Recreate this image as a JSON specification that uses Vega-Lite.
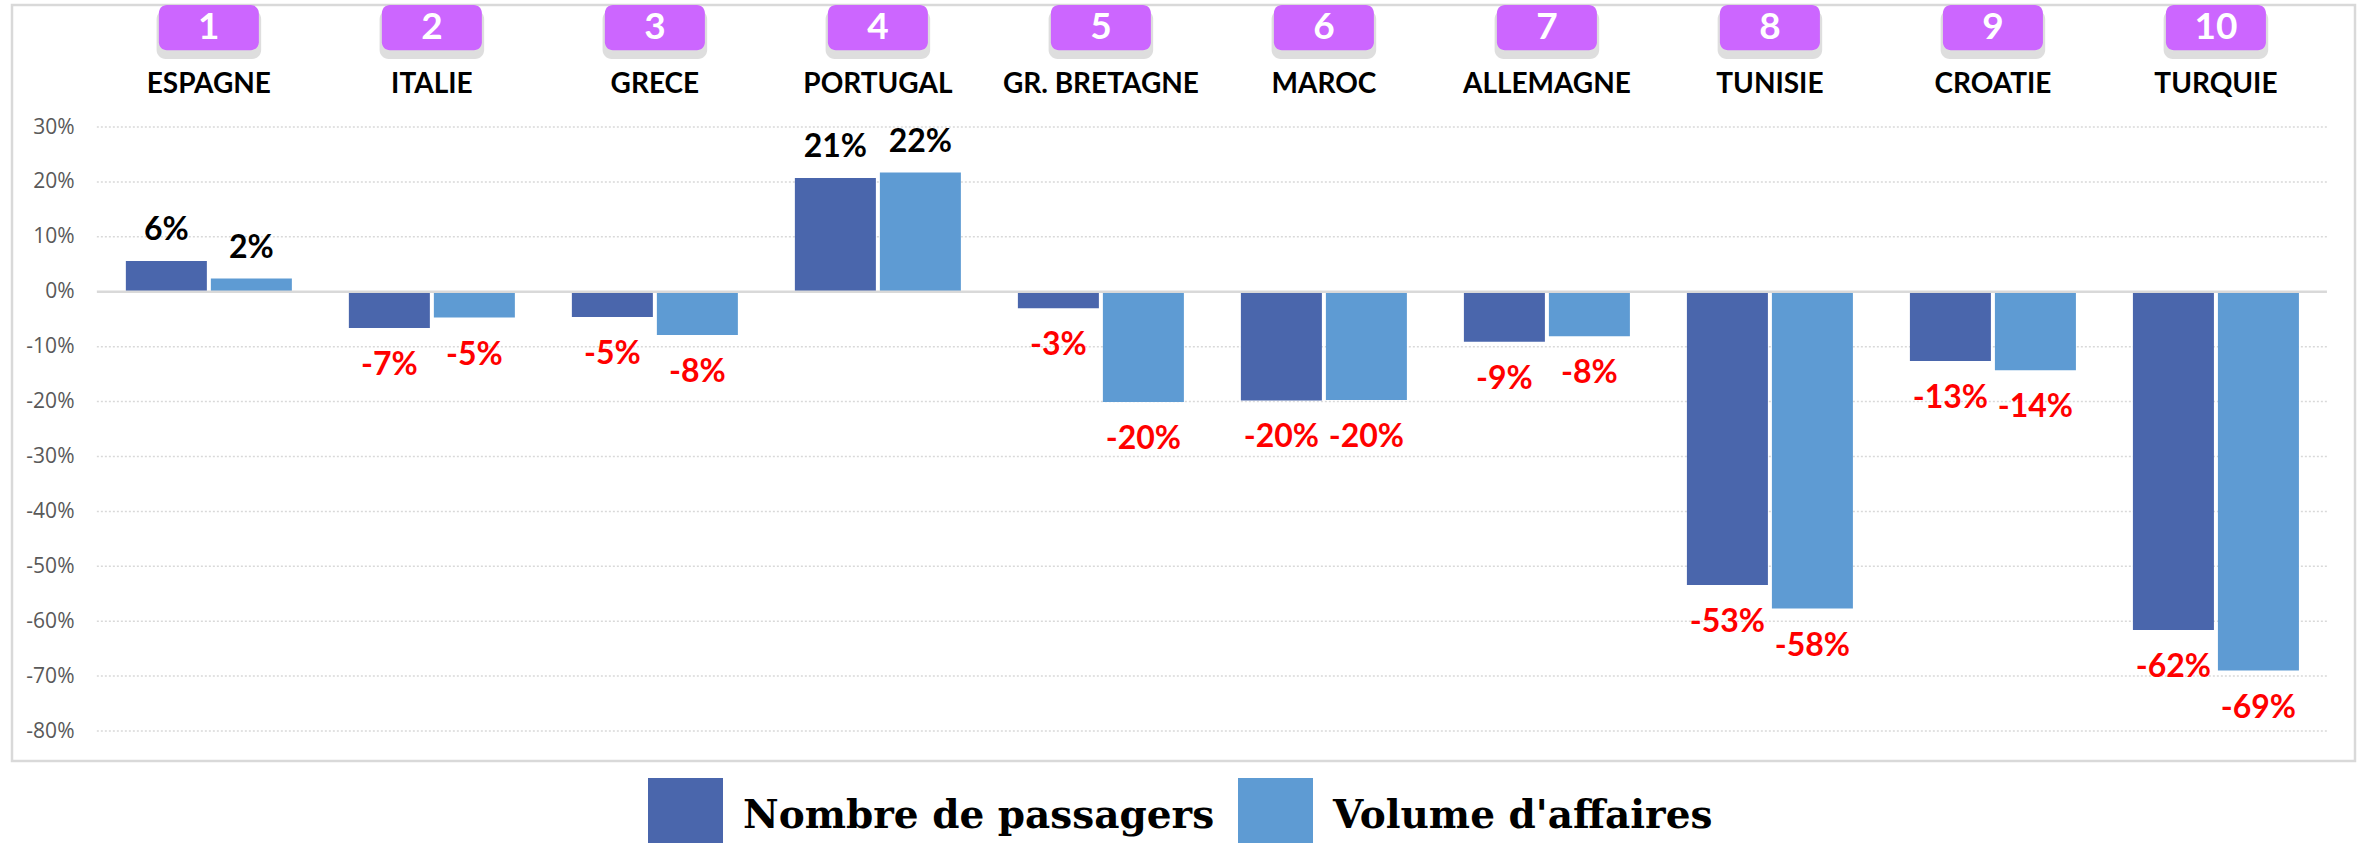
{
  "$schema": "https://vega.github.io/schema/vega-lite/v6.json",
  "width": 2343,
  "height": 756,
  "autosize": "none",
  "padding": {"left": 12, "top": 5, "right": 8, "bottom": 82},
  "background": "white",
  "config": {
    "view": {"stroke": "#D9D9D9", "strokeWidth": 2.5},
    "font": "Lato",
    "locale": {"number": {"decimal": ".", "thousands": ",", "grouping": [3], "currency": ["", ""], "minus": "-"}}
  },
  "datasets": {
    "bars": [
      {"country": "ESPAGNE", "serie": "Nombre de passagers", "value": 0.056},
      {"country": "ESPAGNE", "serie": "Volume d'affaires", "value": 0.024},
      {"country": "ITALIE", "serie": "Nombre de passagers", "value": -0.066},
      {"country": "ITALIE", "serie": "Volume d'affaires", "value": -0.047},
      {"country": "GRECE", "serie": "Nombre de passagers", "value": -0.046},
      {"country": "GRECE", "serie": "Volume d'affaires", "value": -0.079},
      {"country": "PORTUGAL", "serie": "Nombre de passagers", "value": 0.207},
      {"country": "PORTUGAL", "serie": "Volume d'affaires", "value": 0.217},
      {"country": "GR. BRETAGNE", "serie": "Nombre de passagers", "value": -0.030},
      {"country": "GR. BRETAGNE", "serie": "Volume d'affaires", "value": -0.201},
      {"country": "MAROC", "serie": "Nombre de passagers", "value": -0.198},
      {"country": "MAROC", "serie": "Volume d'affaires", "value": -0.197},
      {"country": "ALLEMAGNE", "serie": "Nombre de passagers", "value": -0.091},
      {"country": "ALLEMAGNE", "serie": "Volume d'affaires", "value": -0.081},
      {"country": "TUNISIE", "serie": "Nombre de passagers", "value": -0.534},
      {"country": "TUNISIE", "serie": "Volume d'affaires", "value": -0.577},
      {"country": "CROATIE", "serie": "Nombre de passagers", "value": -0.126},
      {"country": "CROATIE", "serie": "Volume d'affaires", "value": -0.143},
      {"country": "TURQUIE", "serie": "Nombre de passagers", "value": -0.616},
      {"country": "TURQUIE", "serie": "Volume d'affaires", "value": -0.690}
    ],
    "countries": [
      {"country": "ESPAGNE", "rank": "1"},
      {"country": "ITALIE", "rank": "2"},
      {"country": "GRECE", "rank": "3"},
      {"country": "PORTUGAL", "rank": "4"},
      {"country": "GR. BRETAGNE", "rank": "5"},
      {"country": "MAROC", "rank": "6"},
      {"country": "ALLEMAGNE", "rank": "7"},
      {"country": "TUNISIE", "rank": "8"},
      {"country": "CROATIE", "rank": "9"},
      {"country": "TURQUIE", "rank": "10"}
    ],
    "grid": [
      {"v": -0.8}, {"v": -0.7}, {"v": -0.6}, {"v": -0.5}, {"v": -0.4}, {"v": -0.3},
      {"v": -0.2}, {"v": -0.1}, {"v": 0.1}, {"v": 0.2}, {"v": 0.3}
    ]
  },
  "layer": [
    {
      "data": {"name": "bars"},
      "mark": {"type": "bar", "opacity": 0},
      "encoding": {
        "x": {
          "field": "country", "type": "nominal",
          "sort": ["ESPAGNE", "ITALIE", "GRECE", "PORTUGAL", "GR. BRETAGNE", "MAROC", "ALLEMAGNE", "TUNISIE", "CROATIE", "TURQUIE"],
          "scale": {"paddingInner": 0.2556, "paddingOuter": 0.381, "align": 0.67},
          "axis": null
        },
        "xOffset": {
          "field": "serie", "type": "nominal",
          "sort": ["Nombre de passagers", "Volume d'affaires"],
          "scale": {"paddingInner": 0.047, "paddingOuter": 0}
        },
        "y": {
          "field": "value", "type": "quantitative",
          "scale": {"domain": [-0.8546, 0.5222], "nice": false, "zero": false},
          "axis": {
            "values": [-0.8, -0.7, -0.6, -0.5, -0.4, -0.3, -0.2, -0.1, 0, 0.1, 0.2, 0.3],
            "format": ".0%", "grid": false, "domain": false, "ticks": false, "tickSize": 0,
            "labelPadding": 0, "offset": -62, "title": null,
            "labelFont": "Open Sans", "labelFontSize": 21, "labelColor": "#595959"
          }
        }
      }
    },
    {
      "data": {"name": "grid"},
      "mark": {"type": "rule", "color": "#D9D9D9", "strokeWidth": 1.5, "strokeDash": [2, 2]},
      "encoding": {
        "y": {"field": "v", "type": "quantitative"},
        "x": {"datum": "ESPAGNE", "bandPosition": -0.1747},
        "x2": {"datum": "TURQUIE", "bandPosition": 1.1687}
      }
    },
    {
      "data": {"name": "bars"},
      "mark": {"type": "bar"},
      "encoding": {
        "x": {"field": "country", "type": "nominal", "sort": ["ESPAGNE", "ITALIE", "GRECE", "PORTUGAL", "GR. BRETAGNE", "MAROC", "ALLEMAGNE", "TUNISIE", "CROATIE", "TURQUIE"]},
        "xOffset": {"field": "serie", "type": "nominal", "sort": ["Nombre de passagers", "Volume d'affaires"]},
        "y": {"field": "value", "type": "quantitative"},
        "color": {
          "field": "serie", "type": "nominal",
          "scale": {"domain": ["Nombre de passagers", "Volume d'affaires"], "range": ["#4A66AC", "#5E9BD3"]},
          "legend": {
            "title": null, "orient": "none", "legendX": 636, "legendY": 773,
            "direction": "horizontal", "symbolType": "square", "symbolSize": 5625,
            "symbolStrokeWidth": 0, "labelFont": "DejaVu Serif", "labelFontWeight": "bold",
            "labelFontSize": 39, "labelColor": "black", "labelOffset": 20,
            "columnPadding": 23, "labelLimit": 0
          }
        }
      }
    },
    {
      "data": {"name": "grid"},
      "transform": [{"filter": "datum.v == 0.1"}],
      "mark": {"type": "rule", "color": "#D9D9D9", "strokeWidth": 2.5},
      "encoding": {
        "y": {"datum": 0},
        "x": {"datum": "ESPAGNE", "bandPosition": -0.1747},
        "x2": {"datum": "TURQUIE", "bandPosition": 1.1687}
      }
    },
    {
      "data": {"name": "bars"},
      "transform": [{"filter": "datum.value >= 0"}],
      "mark": {"type": "text", "baseline": "alphabetic", "dy": -21, "font": "Lato", "fontWeight": "bold", "fontSize": 32, "color": "black"},
      "encoding": {
        "x": {"field": "country", "type": "nominal", "sort": ["ESPAGNE", "ITALIE", "GRECE", "PORTUGAL", "GR. BRETAGNE", "MAROC", "ALLEMAGNE", "TUNISIE", "CROATIE", "TURQUIE"]},
        "xOffset": {"field": "serie", "type": "nominal", "sort": ["Nombre de passagers", "Volume d'affaires"]},
        "y": {"field": "value", "type": "quantitative"},
        "text": {"field": "value", "type": "quantitative", "format": ".0%"}
      }
    },
    {
      "data": {"name": "bars"},
      "transform": [{"filter": "datum.value < 0"}],
      "mark": {"type": "text", "baseline": "alphabetic", "dy": 47, "font": "Lato", "fontWeight": "bold", "fontSize": 32, "color": "#FF0000"},
      "encoding": {
        "x": {"field": "country", "type": "nominal", "sort": ["ESPAGNE", "ITALIE", "GRECE", "PORTUGAL", "GR. BRETAGNE", "MAROC", "ALLEMAGNE", "TUNISIE", "CROATIE", "TURQUIE"]},
        "xOffset": {"field": "serie", "type": "nominal", "sort": ["Nombre de passagers", "Volume d'affaires"]},
        "y": {"field": "value", "type": "quantitative"},
        "text": {"field": "value", "type": "quantitative", "format": ".0%"}
      }
    },
    {
      "data": {"name": "countries"},
      "mark": {"type": "bar", "color": "#000000", "opacity": 0.13, "cornerRadius": 9, "width": {"band": 0.63}},
      "encoding": {
        "x": {"field": "country", "type": "nominal", "sort": ["ESPAGNE", "ITALIE", "GRECE", "PORTUGAL", "GR. BRETAGNE", "MAROC", "ALLEMAGNE", "TUNISIE", "CROATIE", "TURQUIE"]},
        "y": {"datum": 0.513},
        "y2": {"datum": 0.424}
      }
    },
    {
      "data": {"name": "countries"},
      "mark": {"type": "bar", "color": "#CC66FF", "cornerRadius": 8, "width": {"band": 0.6024}},
      "encoding": {
        "x": {"field": "country", "type": "nominal", "sort": ["ESPAGNE", "ITALIE", "GRECE", "PORTUGAL", "GR. BRETAGNE", "MAROC", "ALLEMAGNE", "TUNISIE", "CROATIE", "TURQUIE"]},
        "y": {"datum": 0.5222},
        "y2": {"datum": 0.440}
      }
    },
    {
      "data": {"name": "countries"},
      "mark": {"type": "text", "baseline": "middle", "font": "Lato", "fontWeight": "bold", "fontSize": 37, "color": "white"},
      "encoding": {
        "x": {"field": "country", "type": "nominal", "sort": ["ESPAGNE", "ITALIE", "GRECE", "PORTUGAL", "GR. BRETAGNE", "MAROC", "ALLEMAGNE", "TUNISIE", "CROATIE", "TURQUIE"]},
        "y": {"datum": 0.4812},
        "text": {"field": "rank"}
      }
    },
    {
      "data": {"name": "countries"},
      "mark": {"type": "text", "baseline": "middle", "font": "Lato", "fontWeight": "bold", "fontSize": 28, "color": "black"},
      "encoding": {
        "x": {"field": "country", "type": "nominal", "sort": ["ESPAGNE", "ITALIE", "GRECE", "PORTUGAL", "GR. BRETAGNE", "MAROC", "ALLEMAGNE", "TUNISIE", "CROATIE", "TURQUIE"]},
        "y": {"datum": 0.3765},
        "text": {"field": "country"}
      }
    }
  ]
}
